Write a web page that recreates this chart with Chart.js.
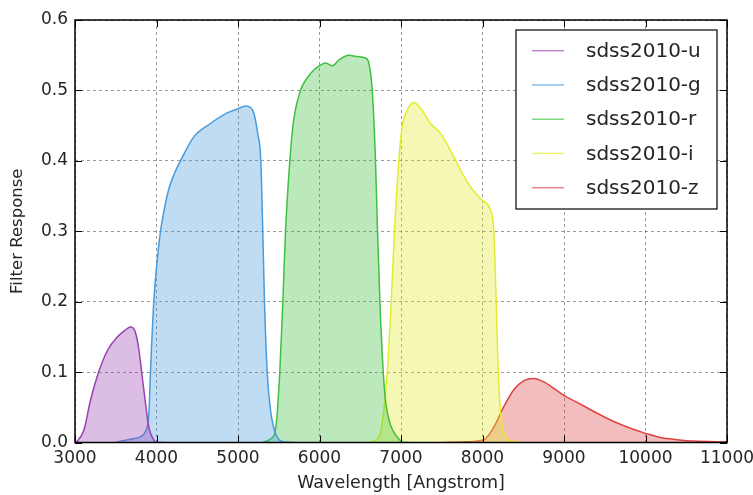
<!DOCTYPE html>
<html>
<head>
<meta charset="utf-8">
<script src="https://cdn.jsdelivr.net/npm/chart.js@4/dist/chart.umd.min.js"></script>
<style>
    html, body { margin: 0; padding: 0; background: #fff; }
    #wrap { width: 753px; height: 495px; }
</style>
</head>
<body>
<div id="wrap"><canvas id="filters"></canvas></div>
<script>
// 濾鏡曲線資料（波長 Å / 響應值）
const uWave = [3000, 3030, 3110, 3190, 3290, 3400, 3520, 3620, 3680, 3740, 3785, 3825, 3865, 3905, 3965, 4000, 4100];
const uResp = [0, 0.002, 0.018, 0.060, 0.100, 0.131, 0.150, 0.160, 0.164, 0.157, 0.131, 0.093, 0.056, 0.022, 0.004, 0, 0];

const gWave = [3500, 3600, 3700, 3800, 3860, 3906, 3926, 3967, 4009, 4049, 4090, 4151, 4220, 4294, 4458, 4663, 4867, 5000, 5092, 5150, 5194, 5240, 5280, 5304, 5325, 5358, 5399, 5460, 5560, 5700];
const gResp = [0, 0.003, 0.005, 0.008, 0.015, 0.040, 0.100, 0.200, 0.259, 0.300, 0.328, 0.360, 0.382, 0.400, 0.434, 0.453, 0.468, 0.474, 0.478, 0.476, 0.468, 0.440, 0.400, 0.300, 0.200, 0.100, 0.046, 0.013, 0.001, 0];

const rWave = [5300, 5399, 5460, 5513, 5550, 5583, 5636, 5680, 5767, 5850, 5940, 6012, 6074, 6156, 6237, 6360, 6463, 6564, 6605, 6647, 6687, 6712, 6741, 6782, 6815, 6871, 6953, 7034, 7100];
const rResp = [0, 0.005, 0.018, 0.100, 0.200, 0.300, 0.400, 0.455, 0.500, 0.518, 0.530, 0.536, 0.539, 0.535, 0.543, 0.550, 0.548, 0.546, 0.539, 0.500, 0.400, 0.300, 0.200, 0.100, 0.055, 0.025, 0.008, 0, 0];

const iWave = [6600, 6700, 6760, 6831, 6880, 6920, 6973, 7015, 7076, 7157, 7239, 7362, 7485, 7607, 7730, 7853, 7996, 8098, 8139, 8168, 8193, 8220, 8260, 8320, 8400, 8500];
const iResp = [0, 0.004, 0.020, 0.100, 0.200, 0.300, 0.400, 0.449, 0.472, 0.483, 0.475, 0.453, 0.439, 0.415, 0.387, 0.363, 0.344, 0.330, 0.300, 0.200, 0.100, 0.045, 0.015, 0.004, 0.001, 0];

const zWave = [7500, 7800, 8016, 8139, 8261, 8384, 8507, 8630, 8752, 8875, 8998, 9162, 9366, 9571, 9775, 10000, 10184, 10389, 10593, 11000];
const zResp = [0, 0.001, 0.004, 0.022, 0.051, 0.075, 0.088, 0.091, 0.086, 0.077, 0.067, 0.057, 0.044, 0.032, 0.022, 0.013, 0.007, 0.004, 0.002, 0.001];

const filterNames = ['sdss2010-u', 'sdss2010-g', 'sdss2010-r', 'sdss2010-i', 'sdss2010-z'];
const filterColors = ['155,66,178', '72,155,221', '64,192,64', '226,235,44', '224,66,66'];

const xTicks = [3000, 4000, 5000, 6000, 7000, 8000, 9000, 10000, 11000];
const yTicks = [0.0, 0.1, 0.2, 0.3, 0.4, 0.5, 0.6];

const TEXT_COLOR = '#262626';
const FONT = '"DejaVu Sans", sans-serif';

function toPoints(wave, resp) {
    return wave.map((w, i) => ({ x: w, y: resp[i] }));
}

const curves = [
    toPoints(uWave, uResp),
    toPoints(gWave, gResp),
    toPoints(rWave, rResp),
    toPoints(iWave, iResp),
    toPoints(zWave, zResp),
];

// 外框、內側刻度與圖例（仿 matplotlib classic）
const framePlugin = {
    id: 'frame',
    afterDatasetsDraw(chart) {
        const { ctx, chartArea: a, scales } = chart;
        const tick = 7;
        ctx.save();
        ctx.strokeStyle = '#000';
        ctx.lineWidth = 1;
        ctx.beginPath();
        xTicks.forEach(v => {
            const px = Math.round(scales.x.getPixelForValue(v)) + 0.5;
            ctx.moveTo(px, a.bottom); ctx.lineTo(px, a.bottom - tick);
            ctx.moveTo(px, a.top); ctx.lineTo(px, a.top + tick);
        });
        yTicks.forEach(v => {
            const py = Math.round(scales.y.getPixelForValue(v)) + 0.5;
            ctx.moveTo(a.left, py); ctx.lineTo(a.left + tick, py);
            ctx.moveTo(a.right, py); ctx.lineTo(a.right - tick, py);
        });
        ctx.stroke();
        ctx.lineWidth = 1.5;
        ctx.strokeRect(a.left, a.top, a.right - a.left, a.bottom - a.top);

        // 圖例
        const boxW = 201, boxH = 179;
        const bx = a.right - 10 - boxW, by = a.top + 10;
        ctx.fillStyle = '#fff';
        ctx.fillRect(bx, by, boxW, boxH);
        ctx.lineWidth = 1.2;
        ctx.strokeRect(bx, by, boxW, boxH);
        ctx.font = '20px ' + FONT;
        ctx.textBaseline = 'middle';
        ctx.textAlign = 'left';
        filterNames.forEach((name, i) => {
            const ry = by + 20.7 + i * 34.25;
            ctx.strokeStyle = 'rgba(' + filterColors[i] + ',0.65)';
            ctx.lineWidth = 1.5;
            ctx.beginPath();
            ctx.moveTo(bx + 16, ry); ctx.lineTo(bx + 48, ry);
            ctx.stroke();
            ctx.fillStyle = TEXT_COLOR;
            ctx.fillText(name, bx + 70, ry + 1);
        });
        ctx.restore();
    },
};

const gridStyle = {
    color: 'rgba(0,0,0,0.4)',
    lineWidth: 1,
    drawTicks: false,
};

new Chart(document.getElementById('filters'), {
    type: 'line',
    data: {
        datasets: curves.map((pts, i) => ({
            label: filterNames[i],
            data: pts,
            borderColor: 'rgb(' + filterColors[i] + ')',
            backgroundColor: 'rgba(' + filterColors[i] + ',0.35)',
            borderWidth: 1.5,
            fill: 'origin',
            pointRadius: 0,
            cubicInterpolationMode: 'monotone',
        })),
    },
    options: {
        responsive: true,
        maintainAspectRatio: false,
        animation: false,
        layout: { padding: { left: 0, right: 26, top: 20, bottom: 0 } },
        plugins: {
            legend: { display: false },
            tooltip: { enabled: false },
        },
        scales: {
            x: {
                type: 'linear',
                min: 3000,
                max: 11000,
                afterBuildTicks: scale => { scale.ticks = xTicks.map(v => ({ value: v })); },
                afterFit: scale => {
                    scale.height = 52.5;
                    scale.paddingLeft = 0;
                    scale.paddingRight = 0;
                },
                grid: gridStyle,
                border: { display: false, dash: [3, 3] },
                ticks: {
                    color: TEXT_COLOR,
                    font: { family: FONT, size: 17 },
                    padding: 6,
                    maxRotation: 0,
                    callback: v => String(v),
                },
                title: {
                    display: true,
                    text: 'Wavelength [Angstrom]',
                    color: TEXT_COLOR,
                    font: { family: FONT, size: 17.5 },
                    padding: { top: 0, bottom: 1 },
                },
            },
            y: {
                min: 0,
                max: 0.6,
                afterBuildTicks: scale => { scale.ticks = yTicks.map(v => ({ value: v })); },
                afterFit: scale => {
                    scale.width = 75;
                    scale.paddingTop = 0;
                    scale.paddingBottom = 0;
                },
                grid: gridStyle,
                border: { display: false, dash: [3, 3] },
                ticks: {
                    color: TEXT_COLOR,
                    font: { family: FONT, size: 17 },
                    padding: 7,
                    callback: v => Number(v).toFixed(1),
                },
                title: {
                    display: true,
                    text: 'Filter Response',
                    color: TEXT_COLOR,
                    font: { family: FONT, size: 16.5 },
                    padding: { top: 8, bottom: 0 },
                },
            },
        },
    },
    plugins: [framePlugin],
});
</script>
</body>
</html>
